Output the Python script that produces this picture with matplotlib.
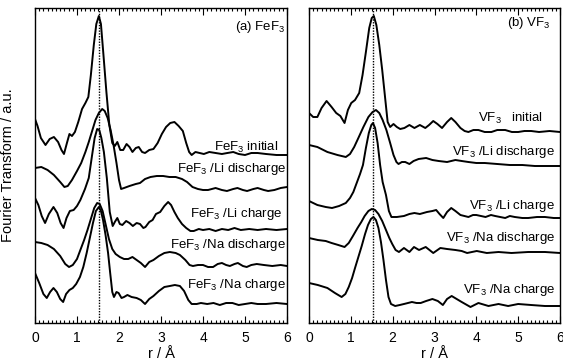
import matplotlib
matplotlib.use("Agg")
import matplotlib.pyplot as plt
from matplotlib.ticker import MultipleLocator

plt.rcParams['font.family'] = ['Liberation Sans', 'DejaVu Sans']
plt.rcParams['mathtext.fontset'] = 'custom'
plt.rcParams['mathtext.rm'] = 'Liberation Sans'

# (r / A, FT magnitude incl. vertical offset, a.u.)
fef3_initial = [
    (0.00, 20.4), (0.06, 19.7), (0.14, 18.5), (0.25, 17.8), (0.35, 18.4), (0.45, 18.6),
    (0.55, 18.1), (0.63, 17.3), (0.69, 16.9), (0.76, 18.0), (0.82, 18.9), (0.88, 18.7),
    (0.95, 19.1), (1.03, 20.1), (1.12, 21.4), (1.20, 22.0), (1.27, 22.6), (1.33, 24.8),
    (1.40, 27.8), (1.46, 29.9), (1.52, 30.7), (1.57, 29.9), (1.63, 26.8), (1.70, 23.1),
    (1.77, 19.8), (1.84, 18.0), (1.90, 17.7), (1.96, 18.1), (2.03, 17.3), (2.10, 17.3),
    (2.18, 17.9), (2.25, 17.6), (2.32, 17.1), (2.40, 17.5), (2.47, 17.6), (2.55, 17.1),
    (2.62, 17.0), (2.72, 17.3), (2.82, 17.4), (2.92, 18.0), (3.02, 18.9), (3.12, 19.6),
    (3.22, 20.0), (3.32, 20.1), (3.42, 19.7), (3.52, 19.2), (3.60, 18.0), (3.67, 17.1),
    (3.73, 16.8), (3.82, 17.1), (3.92, 17.0), (4.02, 16.9), (4.15, 17.1), (4.30, 17.0),
    (4.45, 16.9), (4.58, 17.0), (4.72, 17.1), (4.85, 16.9), (5.00, 16.8), (5.15, 17.0),
    (5.30, 17.0), (5.50, 16.9), (5.75, 16.8), (6.00, 16.8)]
fef3_li_dis = [
    (0.00, 15.5), (0.15, 15.6), (0.30, 15.3), (0.45, 14.8), (0.60, 14.1), (0.70, 13.6),
    (0.78, 13.7), (0.88, 14.3), (1.00, 15.2), (1.10, 16.0), (1.20, 17.1), (1.28, 18.1),
    (1.36, 19.2), (1.44, 20.3), (1.52, 21.0), (1.60, 21.4), (1.66, 21.2), (1.73, 20.5),
    (1.80, 19.3), (1.87, 17.8), (1.94, 16.0), (2.00, 14.3), (2.05, 13.4), (2.12, 13.5),
    (2.25, 13.7), (2.40, 13.9), (2.50, 14.0), (2.62, 14.4), (2.75, 14.6), (2.90, 14.7),
    (3.05, 14.7), (3.20, 14.6), (3.35, 14.6), (3.50, 14.4), (3.62, 14.1), (3.75, 13.6),
    (3.88, 13.4), (4.00, 13.3), (4.12, 13.3), (4.30, 13.5), (4.45, 13.3), (4.57, 13.2),
    (4.72, 13.4), (4.82, 13.5), (4.95, 13.3), (5.05, 13.2), (5.20, 13.4), (5.30, 13.5),
    (5.45, 13.3), (5.55, 13.2), (5.70, 13.3), (5.85, 13.5), (6.00, 13.6)]
fef3_li_chg = [
    (0.00, 12.5), (0.08, 11.8), (0.16, 10.7), (0.24, 10.0), (0.33, 10.9), (0.44, 11.6),
    (0.53, 11.0), (0.61, 10.0), (0.68, 9.5), (0.75, 10.5), (0.83, 11.2), (0.92, 11.3),
    (1.00, 11.7), (1.08, 12.3), (1.19, 13.4), (1.28, 14.5), (1.36, 16.8), (1.42, 18.5),
    (1.48, 19.4), (1.53, 19.3), (1.58, 18.5), (1.64, 17.1), (1.71, 14.5), (1.78, 11.1),
    (1.85, 9.7), (1.90, 10.1), (1.96, 10.5), (2.02, 9.9), (2.08, 9.8), (2.17, 10.2),
    (2.25, 10.0), (2.33, 9.7), (2.42, 10.0), (2.50, 9.9), (2.58, 9.5), (2.63, 9.6),
    (2.72, 10.1), (2.80, 10.3), (2.88, 10.9), (2.98, 11.1), (3.08, 11.7), (3.17, 12.1),
    (3.24, 11.8), (3.32, 11.1), (3.40, 10.5), (3.50, 9.9), (3.60, 9.5), (3.70, 9.2),
    (3.78, 9.2), (3.90, 9.4), (4.00, 9.3), (4.15, 9.4), (4.30, 9.2), (4.45, 9.4),
    (4.60, 9.3), (4.75, 9.5), (4.90, 9.3), (5.10, 9.4), (5.30, 9.3), (5.50, 9.4),
    (5.75, 9.3), (6.00, 9.4)]
fef3_na_dis = [
    (0.00, 8.1), (0.15, 8.0), (0.30, 7.8), (0.45, 7.4), (0.60, 6.7), (0.72, 5.9),
    (0.81, 5.6), (0.90, 5.8), (1.00, 6.4), (1.08, 7.3), (1.17, 8.3), (1.25, 9.3),
    (1.33, 10.4), (1.41, 11.5), (1.48, 12.0), (1.54, 11.9), (1.61, 11.2), (1.68, 9.9),
    (1.76, 8.4), (1.84, 7.4), (1.92, 6.9), (2.02, 6.6), (2.12, 6.4), (2.22, 6.4),
    (2.32, 6.6), (2.42, 6.3), (2.52, 6.0), (2.62, 5.6), (2.72, 6.1), (2.82, 6.3),
    (2.95, 6.7), (3.08, 7.0), (3.21, 7.1), (3.35, 7.0), (3.45, 6.8), (3.58, 6.3),
    (3.68, 5.8), (3.76, 5.7), (3.88, 5.8), (4.00, 5.8), (4.12, 5.6), (4.24, 5.6),
    (4.35, 5.9), (4.45, 6.0), (4.55, 5.8), (4.64, 5.7), (4.75, 5.9), (4.83, 6.0),
    (4.95, 5.7), (5.04, 5.6), (5.15, 5.8), (5.28, 5.9), (5.45, 5.8), (5.65, 5.7),
    (5.85, 5.8), (6.00, 5.7)]
fef3_na_chg = [
    (0.00, 5.0), (0.10, 4.0), (0.20, 2.9), (0.28, 2.5), (0.36, 3.1), (0.44, 3.5),
    (0.52, 3.1), (0.60, 2.4), (0.67, 2.1), (0.74, 2.9), (0.82, 3.3), (0.90, 3.5),
    (0.98, 3.9), (1.07, 4.6), (1.15, 5.6), (1.23, 7.0), (1.31, 8.6), (1.38, 10.0),
    (1.45, 11.2), (1.52, 11.6), (1.57, 11.2), (1.62, 10.3), (1.68, 8.8), (1.74, 7.0),
    (1.79, 5.0), (1.84, 3.1), (1.88, 2.6), (1.94, 3.1), (1.99, 3.0), (2.06, 2.5),
    (2.12, 2.6), (2.20, 2.8), (2.30, 2.6), (2.42, 2.5), (2.52, 2.3), (2.62, 1.9),
    (2.72, 2.4), (2.82, 2.7), (2.95, 3.2), (3.08, 3.6), (3.21, 3.7), (3.33, 3.8),
    (3.45, 3.7), (3.55, 3.2), (3.65, 2.3), (3.73, 1.9), (3.85, 1.9), (3.95, 2.0),
    (4.10, 1.9), (4.25, 2.0), (4.40, 1.8), (4.55, 2.0), (4.70, 2.0), (4.85, 1.8),
    (5.00, 1.9), (5.15, 2.0), (5.30, 1.9), (5.50, 1.9), (5.75, 2.0), (6.00, 1.9)]

vf3_initial = [
    (0.00, 21.0), (0.10, 20.6), (0.20, 20.6), (0.30, 21.5), (0.42, 22.2), (0.54, 21.6),
    (0.65, 21.0), (0.75, 20.7), (0.85, 20.0), (0.93, 21.3), (1.01, 22.0), (1.10, 22.3),
    (1.20, 23.0), (1.28, 24.8), (1.36, 27.1), (1.44, 29.5), (1.50, 30.5), (1.55, 30.7),
    (1.61, 29.8), (1.68, 27.8), (1.75, 25.3), (1.82, 22.5), (1.88, 20.1), (1.94, 19.6),
    (2.02, 19.9), (2.10, 19.6), (2.18, 19.4), (2.28, 19.5), (2.40, 19.8), (2.52, 19.5),
    (2.65, 19.8), (2.78, 19.5), (2.87, 19.8), (2.97, 20.2), (3.07, 19.9), (3.18, 19.5),
    (3.30, 20.1), (3.40, 20.5), (3.50, 20.1), (3.62, 19.5), (3.72, 19.2), (3.81, 19.1),
    (3.93, 19.3), (4.05, 19.3), (4.20, 19.1), (4.36, 19.1), (4.50, 19.3), (4.69, 19.3),
    (4.85, 19.1), (5.00, 19.1), (5.15, 19.2), (5.31, 19.2), (5.50, 19.1), (5.75, 19.2),
    (6.00, 19.1)]
vf3_li_dis = [
    (0.00, 17.8), (0.20, 17.6), (0.44, 17.1), (0.68, 16.8), (0.88, 16.6), (0.98, 16.9),
    (1.08, 17.6), (1.18, 18.5), (1.30, 19.6), (1.42, 20.6), (1.52, 21.1), (1.60, 21.3),
    (1.68, 21.0), (1.76, 20.3), (1.85, 19.3), (1.94, 18.0), (2.02, 16.8), (2.09, 16.1),
    (2.14, 15.9), (2.22, 16.1), (2.30, 16.1), (2.40, 15.9), (2.50, 16.2), (2.62, 16.4),
    (2.80, 16.5), (2.95, 16.3), (3.10, 16.2), (3.30, 16.1), (3.50, 16.3), (3.65, 16.2),
    (3.81, 16.1), (4.00, 16.0), (4.20, 16.0), (4.50, 15.9), (4.80, 15.8), (5.10, 15.8),
    (5.40, 15.7), (5.70, 15.7), (6.00, 15.7)]
vf3_li_chg = [
    (0.00, 12.2), (0.20, 11.8), (0.40, 11.6), (0.55, 11.5), (0.72, 11.7), (0.88, 12.0),
    (0.98, 12.5), (1.06, 13.1), (1.14, 14.0), (1.22, 14.9), (1.29, 15.8), (1.36, 17.5),
    (1.43, 19.0), (1.49, 19.8), (1.53, 20.0), (1.58, 19.5), (1.64, 18.0), (1.70, 15.8),
    (1.76, 14.1), (1.84, 12.8), (1.91, 11.2), (1.97, 10.6), (2.10, 10.6), (2.27, 10.7),
    (2.40, 10.9), (2.52, 11.0), (2.65, 10.9), (2.82, 11.1), (2.95, 11.2), (3.04, 11.3),
    (3.12, 10.9), (3.21, 10.5), (3.30, 11.1), (3.40, 11.5), (3.50, 11.2), (3.62, 10.8),
    (3.81, 10.6), (3.92, 10.8), (4.00, 10.8), (4.22, 10.6), (4.35, 10.8), (4.45, 10.7),
    (4.69, 10.5), (4.80, 10.7), (4.92, 10.6), (5.10, 10.5), (5.24, 10.5), (5.45, 10.6),
    (5.64, 10.6), (5.85, 10.5), (6.00, 10.5)]
vf3_na_dis = [
    (0.00, 8.5), (0.21, 8.3), (0.40, 8.2), (0.54, 8.0), (0.70, 7.8), (0.85, 7.6),
    (0.95, 8.0), (1.05, 8.7), (1.16, 9.5), (1.25, 10.1), (1.33, 10.7), (1.42, 11.2),
    (1.50, 11.4), (1.58, 11.3), (1.66, 10.9), (1.75, 10.2), (1.84, 9.3), (1.92, 8.5),
    (1.99, 7.9), (2.07, 7.3), (2.15, 7.1), (2.27, 7.5), (2.40, 7.1), (2.51, 7.6),
    (2.63, 7.3), (2.79, 7.6), (2.97, 7.0), (3.14, 7.5), (3.30, 7.4), (3.50, 7.3),
    (3.65, 7.2), (3.78, 7.0), (4.01, 7.2), (4.25, 7.0), (4.53, 7.1), (4.84, 7.0),
    (5.24, 7.1), (5.64, 7.1), (6.00, 7.0)]
vf3_na_chg = [
    (0.00, 4.0), (0.21, 3.8), (0.44, 3.5), (0.62, 3.0), (0.78, 2.6), (0.87, 2.9),
    (0.95, 3.6), (1.03, 4.5), (1.10, 5.5), (1.18, 6.6), (1.26, 7.7), (1.34, 8.9),
    (1.41, 9.8), (1.48, 10.4), (1.54, 10.6), (1.60, 10.3), (1.66, 9.5), (1.72, 8.1),
    (1.78, 6.3), (1.84, 4.3), (1.90, 2.6), (1.96, 1.9), (2.06, 1.7), (2.17, 1.8),
    (2.27, 1.9), (2.46, 2.1), (2.57, 2.0), (2.67, 2.0), (2.80, 2.2), (2.95, 2.4),
    (3.08, 2.2), (3.20, 1.8), (3.30, 2.4), (3.41, 2.7), (3.53, 2.4), (3.65, 2.1),
    (3.86, 1.6), (4.05, 2.0), (4.29, 1.7), (4.53, 1.9), (4.76, 1.7), (5.00, 1.9),
    (5.31, 1.8), (5.64, 1.7), (6.00, 1.7)]

sub3 = r'$_{\mathregular{3}}$'
fef3_labels = ['FeF' + sub3 + ' initial', 'FeF' + sub3 + ' /Li discharge',
               'FeF' + sub3 + ' /Li charge', 'FeF' + sub3 + ' /Na discharge',
               'FeF' + sub3 + ' /Na charge']
vf3_labels = ['VF' + sub3 + '   initial', 'VF' + sub3 + ' /Li discharge',
              'VF' + sub3 + ' /Li charge', 'VF' + sub3 + ' /Na discharge',
              'VF' + sub3 + ' /Na charge']

panels = [
    {'curves': [fef3_initial, fef3_li_dis, fef3_li_chg, fef3_na_dis, fef3_na_chg],
     'labels': fef3_labels,
     'label_pos': [(5.79, 17.6), (5.98, 15.4), (5.90, 10.9), (5.98, 7.8), (5.98, 3.8)],
     'title': '(a) FeF' + sub3, 'title_pos': (5.95, 29.6), 'vline': 1.52,
     'rect': [35 / 563, 41 / 364, 252 / 563, 315 / 364]},
    {'curves': [vf3_initial, vf3_li_dis, vf3_li_chg, vf3_na_dis, vf3_na_chg],
     'labels': vf3_labels,
     'label_pos': [(5.59, 20.5), (5.88, 17.1), (5.88, 11.7), (5.88, 8.5), (5.90, 3.3)],
     'title': '(b) VF' + sub3, 'title_pos': (5.78, 30.0), 'vline': 1.54,
     'rect': [309 / 563, 41 / 364, 251 / 563, 315 / 364]},
]

fig = plt.figure(figsize=(5.63, 3.64), dpi=100)

for i, p in enumerate(panels):
    ax = fig.add_axes(p['rect'])
    for curve in p['curves']:
        r = [c[0] for c in curve]
        ft = [c[1] for c in curve]
        ax.plot(r, ft, color='black', lw=1.4, solid_joinstyle='round')
    ax.axvline(p['vline'], color='black', lw=1.0, ls=(0, (1, 1)))
    for text, (tx, ty) in zip(p['labels'], p['label_pos']):
        ax.text(tx, ty, text, ha='right', va='center', fontsize=9.5)
    ax.text(p['title_pos'][0], p['title_pos'][1], p['title'], ha='right',
            va='center', fontsize=9.5)

    ax.set_xlim(0, 6)
    ax.set_ylim(0, 31.5)
    ax.xaxis.set_major_locator(MultipleLocator(1))
    ax.xaxis.set_minor_locator(MultipleLocator(0.1))
    ax.tick_params(axis='x', which='both', direction='in', top=True, bottom=True,
                   labelsize=10, width=0.8, pad=6)
    ax.tick_params(axis='x', which='major', length=5)
    ax.tick_params(axis='x', which='minor', length=2.5)
    ax.set_yticks([])
    for s in ax.spines.values():
        s.set_linewidth(1.0)
    ax.set_xlabel('r / Å', fontsize=10.5, labelpad=1)
    if i == 0:
        ax.set_ylabel('Fourier Transform / a.u.', fontsize=10.5)
        ax.yaxis.set_label_coords(-0.08, 0.5)

fig.savefig('out.png', dpi=100)
